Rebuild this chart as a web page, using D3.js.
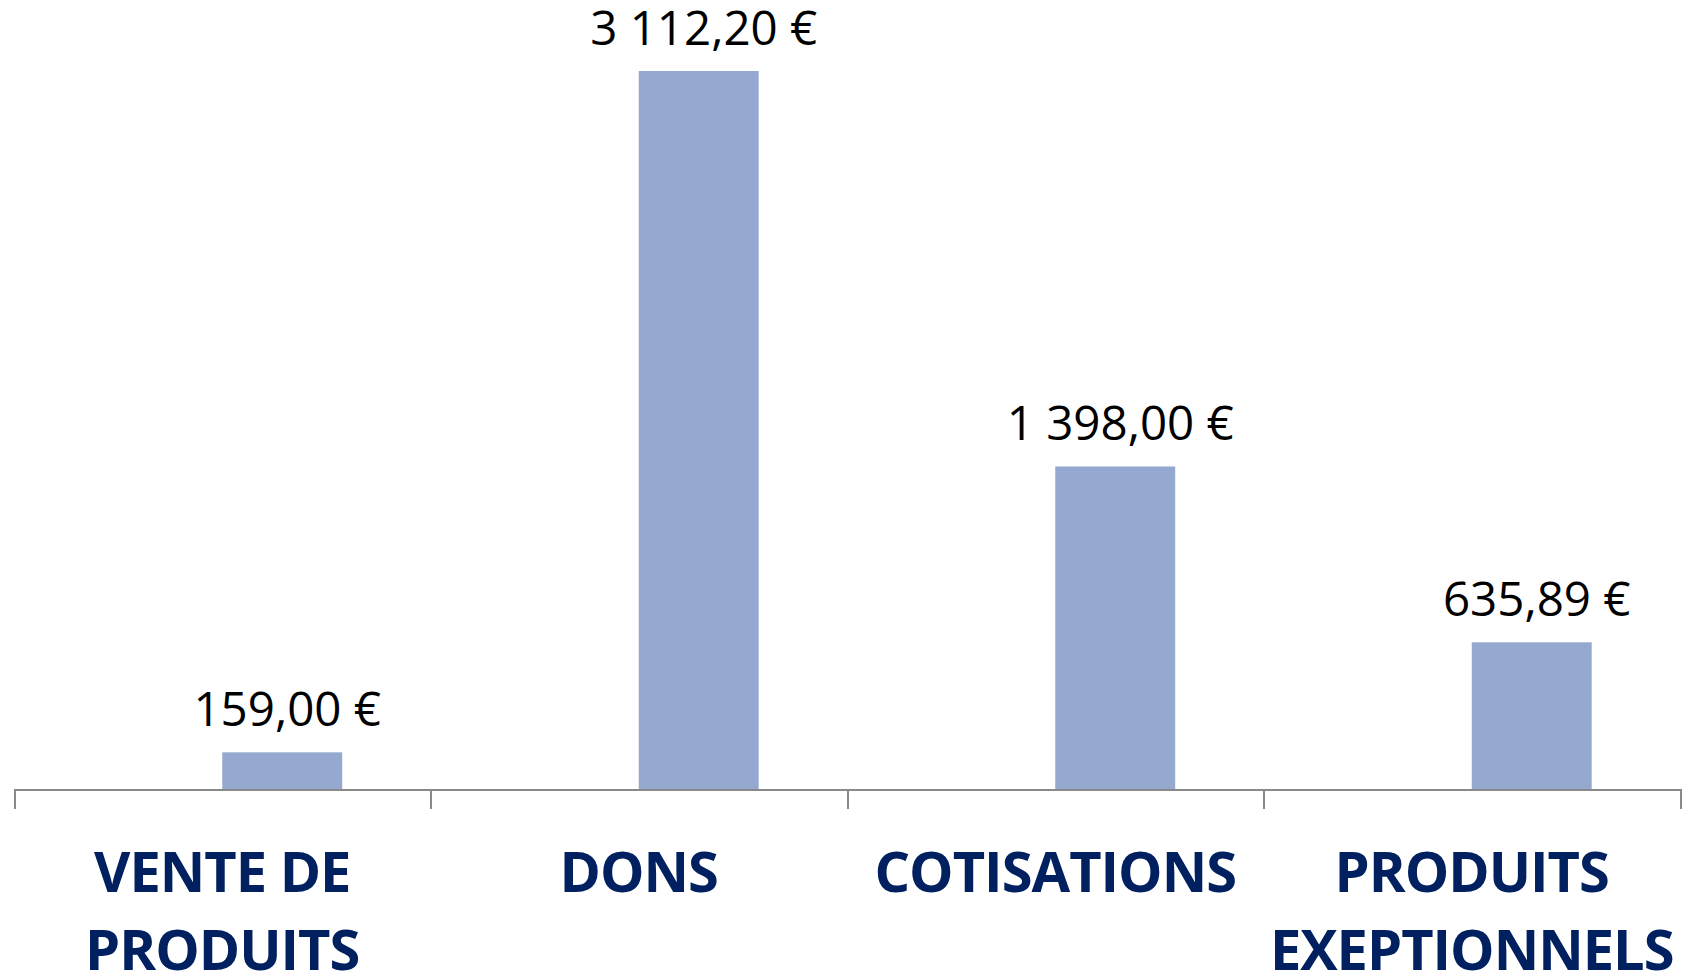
<!DOCTYPE html>
<html>
<head>
<meta charset="utf-8">
<script src="https://cdn.jsdelivr.net/npm/d3@7"></script>
<style>
  html, body { margin: 0; padding: 0; background: #fff; }
  .axis path, .axis line { stroke: #898989; stroke-width: 2px; shape-rendering: crispEdges; }
</style>
</head>
<body>
<div id="chart"></div>
<script>
// categories and values (euros)
var categories = ['VENTE DE PRODUITS', 'DONS', 'COTISATIONS', 'PRODUITS EXEPTIONNELS'];
var values = [159.00, 3112.20, 1398.00, 635.89];
var valueLabels = ['159,00 €', '3 112,20 €', '1 398,00 €', '635,89 €'];

var width = 1691, height = 974;
var left = 14, right = 1680
    , baseY = 789
    , topY = 71;

var svg = d3.select('#chart').append('svg')
    .attr('width', width)
    .attr('height', height);

var x = d3.scaleBand()
    .domain(categories)
    .range([left, right])
    .padding(0);

// edges of the category bands, for the tick marks
var xEdge = d3.scaleLinear()
    .domain([0, categories.length])
    .range([left, right]);

var y = d3.scaleLinear()
    .domain([0, d3.max(values)])
    .range([baseY, topY]);

var barW = x.bandwidth() * 0.288;

// bars
svg.append('g').selectAll('rect')
    .data(values)
    .enter()
    .append('rect')
    .attr('x', (d, i) => x(categories[i]) + x.bandwidth() / 2)
    .attr('y', d => y(d))
    .attr('width', barW)
    .attr('height', d => baseY - y(d))
    .style('fill', '#95a9d0');

// value labels
svg.append('g').selectAll('text')
    .data(values)
    .enter()
    .append('text')
    .attr('x', (d, i) => x(categories[i]) + x.bandwidth() / 2 + barW / 2 + 5)
    .attr('y', d => y(d) - 26)
    .attr('text-anchor', 'middle')
    .style('font', '47.5px "Open Sans", sans-serif')
    .style('fill', '#000')
    .text((d, i) => valueLabels[i]);

// axis
svg.append('g')
    .attr('class', 'axis')
    .attr('transform', `translate(0,${baseY})`)
    .call(d3.axisBottom(xEdge)
        .tickValues(d3.range(categories.length + 1))
        .tickFormat('')
        .tickSize(20)
        .tickSizeOuter(0));

// category labels, wrapped to the band width
var catText = svg.append('g').selectAll('text')
    .data(categories)
    .enter()
    .append('text')
    .attr('x', d => x(d) + x.bandwidth() / 2)
    .attr('y', 892)
    .attr('text-anchor', 'middle')
    .style('font', 'bold 56px "Open Sans", sans-serif')
    .style('letter-spacing', '-1px')
    .style('fill', '#002060');

catText.each(function (d) {
    var t = d3.select(this),
        cx = x(d) + x.bandwidth() / 2,
        words = d.split(' '),
        line = [],
        tspan = t.append('tspan').attr('x', cx).attr('dy', 0);
    words.forEach(function (w) {
        line.push(w);
        tspan.text(line.join(' '));
        if (tspan.node().getComputedTextLength() > x.bandwidth() - 10 && line.length > 1) {
            line.pop();
            tspan.text(line.join(' '));
            line = [w];
            tspan = t.append('tspan').attr('x', cx).attr('dy', 78).text(w);
        }
    });
});
</script>
</body>
</html>
